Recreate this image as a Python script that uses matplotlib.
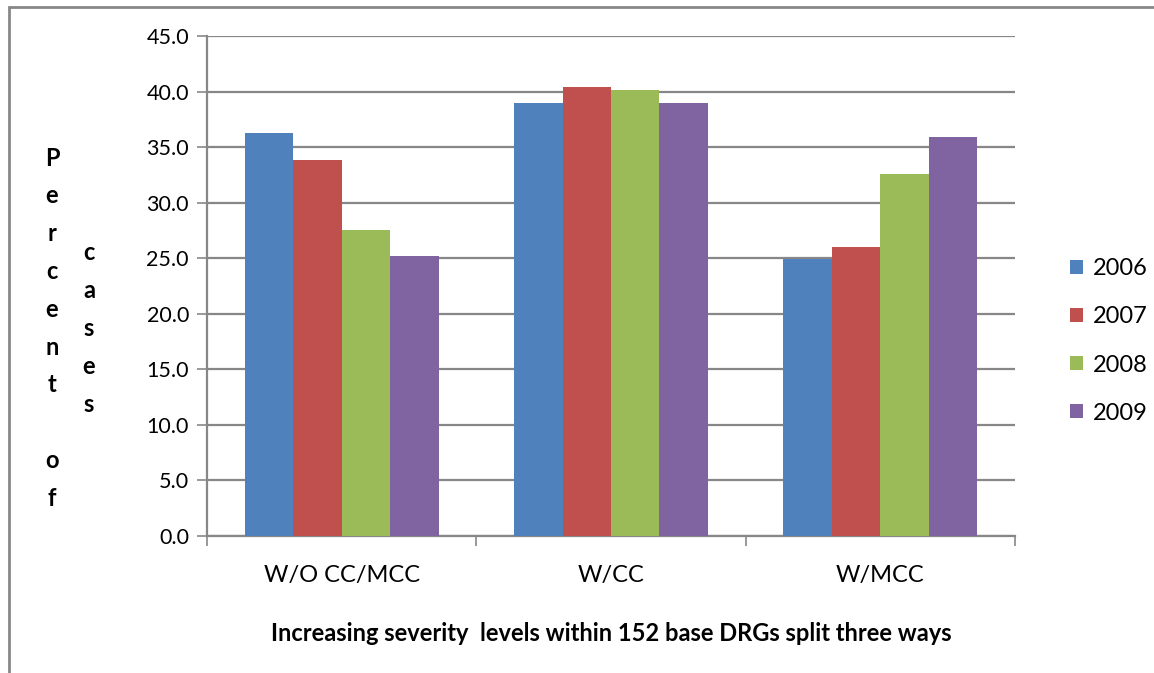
import matplotlib
matplotlib.use("Agg")
import matplotlib.pyplot as plt
from matplotlib.patches import Rectangle, Patch
import numpy as np

# data
categories = ["W/O CC/MCC", "W/CC", "W/MCC"]
years = ["2006", "2007", "2008", "2009"]
values_2006 = [36.3, 39.0, 24.9]
values_2007 = [33.8, 40.4, 26.0]
values_2008 = [27.5, 40.1, 32.6]
values_2009 = [25.2, 39.0, 35.9]
colors = ["#4F81BD", "#C0504D", "#9BBB59", "#8064A2"]
yticks = np.arange(0, 45.1, 5)

plt.rcParams["font.family"] = ["Lato", "DejaVu Sans"]

fig = plt.figure(figsize=(11.54, 6.73), dpi=100)
ax = fig.add_axes([207 / 1154, 1 - 536 / 673, (1015 - 207) / 1154, 500 / 673])

series = [values_2006, values_2007, values_2008, values_2009]
x = np.arange(len(categories))
bar_w = 0.18
for i, (vals, c) in enumerate(zip(series, colors)):
    ax.bar(x + (i - 1.5) * bar_w, vals, bar_w, color=c, label=years[i], zorder=3)

grid_col = "#878787"
ax.set_ylim(0, 45)
ax.set_xlim(-0.5, len(categories) - 0.5)
ax.set_yticks(yticks)
ax.set_yticklabels([f"{v:.1f}" for v in yticks], fontsize=15.5)
ax.yaxis.grid(True, color=grid_col, lw=1.6, zorder=0)
ax.set_axisbelow(True)

# category labels centred, ticks on group boundaries
ax.set_xticks(np.arange(-0.5, len(categories), 1.0))
ax.set_xticklabels([])
ax.set_xticks(x, minor=True)
ax.set_xticklabels(categories, minor=True, fontsize=17)
ax.tick_params(axis="x", which="minor", length=0, pad=21)
ax.tick_params(axis="x", which="major", length=7, color=grid_col, width=1.2)
ax.tick_params(axis="y", length=7, color=grid_col, width=1.2, pad=6)

for s in ["top", "right"]:
    ax.spines[s].set_visible(False)
for s in ["left", "bottom"]:
    ax.spines[s].set_color(grid_col)
    ax.spines[s].set_linewidth(1.6)

ax.set_xlabel("Increasing severity  levels within 152 base DRGs split three ways",
              fontsize=17, fontweight="bold", labelpad=26)

# odd stacked y label, two columns of letters
col1 = "Percent of"
col2 = "cases"
step = 37.8 / 673
y0 = 1 - 158 / 673
for k, ch in enumerate(col1):
    fig.text(52 / 1154, y0 - k * step, ch, fontsize=17, fontweight="bold",
             ha="center", va="center")
y1 = 1 - 253 / 673
for k, ch in enumerate(col2):
    fig.text(89 / 1154, y1 - k * step, ch, fontsize=17, fontweight="bold",
             ha="center", va="center")

handles = [Patch(facecolor=c, edgecolor="none") for c in colors]
fig.legend(handles, years, loc="center left", bbox_to_anchor=(1049 / 1154, 1 - 341 / 673),
           frameon=False, fontsize=17, handlelength=0.55, handleheight=0.55,
           handletextpad=0.4, labelspacing=1.15)

# outer chart border (only top and left visible)
fig.add_artist(Rectangle((9 / 1154, -0.2), 1.2, 1.2 - 7 / 673,
                         transform=fig.transFigure, fill=False,
                         edgecolor="#878787", lw=2))

fig.savefig("out.png", dpi=100)
